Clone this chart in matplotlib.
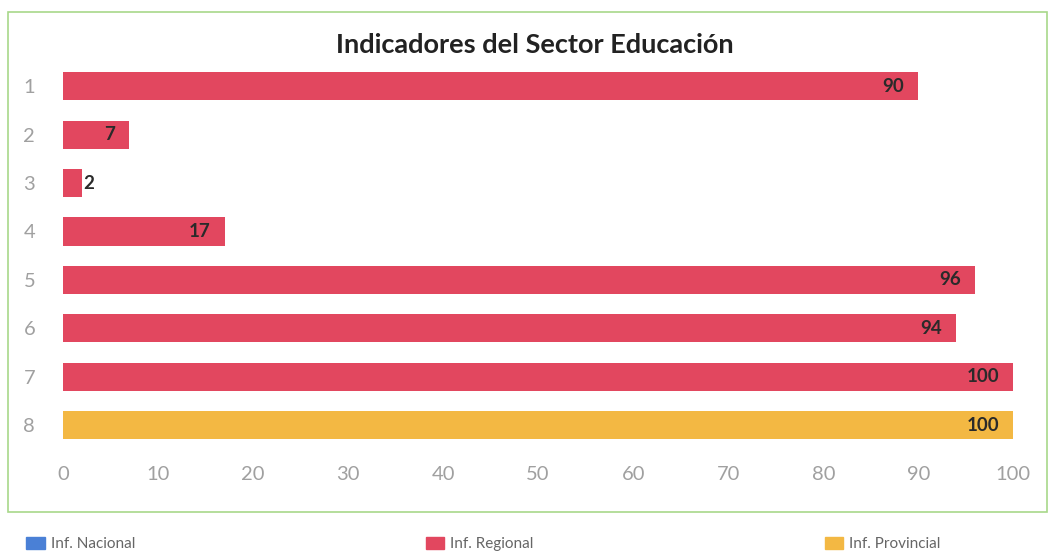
import matplotlib.pyplot as plt
from matplotlib.patches import Patch, Rectangle

categories = ["1", "2", "3", "4", "5", "6", "7", "8"]
nacional = [0, 0, 0, 0, 0, 0, 0, 0]
regional = [90, 7, 2, 17, 96, 94, 100, 0]
provincial = [0, 0, 0, 0, 0, 0, 0, 100]
x_ticks = [0, 10, 20, 30, 40, 50, 60, 70, 80, 90, 100]

c_nac = "#4A80D6"
c_reg = "#E2475F"
c_prov = "#F3B843"

plt.rcParams["font.family"] = ["Lato", "DejaVu Sans"]

fig = plt.figure(figsize=(10.49, 5.54), dpi=100)
ax = fig.add_axes([0.060, 0.189, 0.906, 0.699])

ypos = list(range(1, len(categories) + 1))
h = 0.58
ax.barh(ypos, nacional, height=h, color=c_nac)
ax.barh(ypos, regional, height=h, color=c_reg)
ax.barh(ypos, provincial, height=h, color=c_prov)

for y, r, p in zip(ypos, regional, provincial):
    v = max(r, p)
    if v >= 5:
        ax.text(v - 1.5, y, str(v), ha="right", va="center",
                fontsize=13.5, fontweight="bold", color="#2a2a2a")
    else:
        ax.text(v + 0.1, y, str(v), ha="left", va="center",
                fontsize=13.5, fontweight="bold", color="#2a2a2a")

ax.set_ylim(8.5, 0.5)
ax.set_xlim(0, 100)
ax.set_yticks(ypos)
ax.set_yticklabels(categories)
ax.set_xticks(x_ticks)
ax.tick_params(length=0, labelsize=14.5, colors="#a0a0a0", pad=12)
ax.tick_params(axis="y", pad=20)
for s in ax.spines.values():
    s.set_visible(False)

fig.text(0.51, 0.918, "Indicadores del Sector Educación", ha="center", va="center",
         fontsize=19.5, fontweight="bold", color="#222222")

fig.patches.append(Rectangle((0.008, 0.076), 0.990, 0.903, transform=fig.transFigure,
                             fill=False, edgecolor="#A8D88A", linewidth=1.2))

for lab, col, xa in [("Inf. Nacional", c_nac, 0.012),
                     ("Inf. Regional", c_reg, 0.393),
                     ("Inf. Provincial", c_prov, 0.773)]:
    fig.legend(handles=[Patch(color=col)], labels=[lab], loc="center left",
               bbox_to_anchor=(xa, 0.018), frameon=False, fontsize=11,
               labelcolor="#666666", handlelength=1.2, handleheight=0.8,
               handletextpad=0.4)

fig.savefig("out.png", dpi=100)
